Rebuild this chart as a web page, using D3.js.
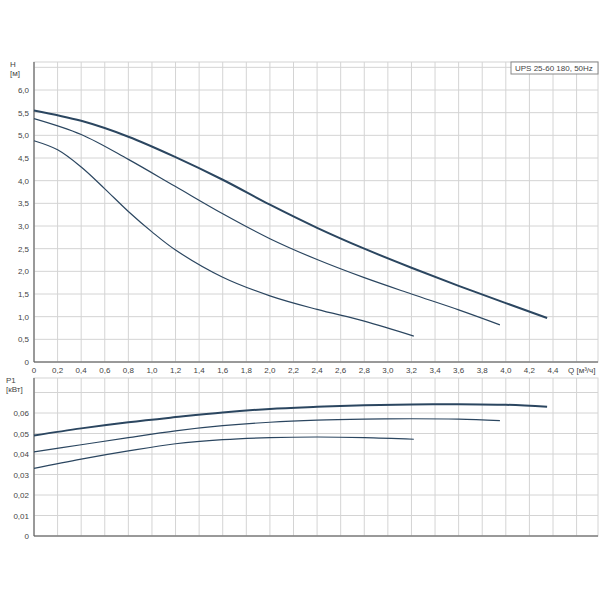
<!DOCTYPE html><html><head><script src="https://cdn.jsdelivr.net/npm/d3@7"></script>
<style>body{margin:0;background:#fff}text{font-family:Arial,"Liberation Sans",sans-serif;font-size:8px;fill:#444}</style></head><body>
<svg id="c" width="600" height="600"></svg>
<script>
const title="UPS 25-60 180, 50Hz";
const qTicks=[0,0.2,0.4,0.6,0.8,1.0,1.2,1.4,1.6,1.8,2.0,2.2,2.4,2.6,2.8,3.0,3.2,3.4,3.6,3.8,4.0,4.2,4.4];
const hTicks=[0,0.5,1.0,1.5,2.0,2.5,3.0,3.5,4.0,4.5,5.0,5.5,6.0];
const pTicks=[0,0.01,0.02,0.03,0.04,0.05,0.06];
const hHigh=[[0,5.55],[0.4,5.32],[0.8,4.97],[1.2,4.52],[1.6,4.02],[2.0,3.47],[2.4,2.96],[2.8,2.5],[3.2,2.08],[3.6,1.68],[4.0,1.3],[4.35,0.97]];
const hMid=[[0,5.37],[0.4,5.02],[0.8,4.47],[1.2,3.87],[1.6,3.27],[2.0,2.72],[2.4,2.26],[2.8,1.86],[3.2,1.5],[3.6,1.15],[3.95,0.82]];
const hLow=[[0,4.88],[0.2,4.68],[0.4,4.3],[0.6,3.82],[0.8,3.32],[1.0,2.87],[1.2,2.47],[1.6,1.87],[2.0,1.46],[2.4,1.16],[2.8,0.9],[3.22,0.57]];
const pHigh=[[0,0.049],[0.4,0.0525],[0.8,0.0555],[1.2,0.058],[1.6,0.0603],[2.0,0.062],[2.4,0.063],[2.8,0.0638],[3.2,0.0642],[3.6,0.0643],[4.0,0.064],[4.35,0.063]];
const pMid=[[0,0.041],[0.4,0.0445],[0.8,0.048],[1.2,0.0513],[1.6,0.0538],[2.0,0.0555],[2.4,0.0565],[2.8,0.057],[3.2,0.0572],[3.6,0.057],[3.95,0.0563]];
const pLow=[[0,0.033],[0.4,0.0375],[0.8,0.0415],[1.2,0.045],[1.6,0.047],[2.0,0.048],[2.4,0.0483],[2.8,0.048],[3.22,0.0472]];
const svg=d3.select("#c");
const x=d3.scaleLinear().domain([0,4.4]).range([34,553]);
const xMax=x.invert(598);
const yH=d3.scaleLinear().domain([0,6]).range([362,90]);
const yP=d3.scaleLinear().domain([0,0.06]).range([536,413]);
const grid="#d4d4d4";
function panel(y,ticks,top,bottom,fmt){
  const g=svg.append("g");
  const gx=d3.range(0,xMax,0.2);
  g.selectAll(".vx").data(gx).enter().append("line").attr("x1",d=>x(d)).attr("x2",d=>x(d)).attr("y1",top).attr("y2",bottom).attr("stroke",grid);
  const step=ticks[1]-ticks[0];const gy=[];for(let v=0;y(v)>=top-0.5;v+=step)gy.push(v);
  g.selectAll(".hy").data(gy).enter().append("line").attr("x1",34).attr("x2",598).attr("y1",d=>y(d)).attr("y2",d=>y(d)).attr("stroke",grid);
  g.append("rect").attr("x",34).attr("y",top).attr("width",564).attr("height",bottom-top).attr("fill","none").attr("stroke",grid);
  g.append("line").attr("x1",34).attr("x2",34).attr("y1",top).attr("y2",bottom).attr("stroke","#555");
  g.append("line").attr("x1",34).attr("x2",598).attr("y1",bottom).attr("y2",bottom).attr("stroke","#555");
  g.selectAll(".tl").data(ticks).enter().append("text").attr("x",29).attr("y",d=>y(d)+3).attr("text-anchor","end").text(fmt);
}
panel(yH,hTicks,62,362,d=>d===0?"0":d3.format(".1f")(d).replace(".",","));
panel(yP,pTicks,378,536,d=>d===0?"0":d3.format(".2f")(d).replace(".",","));
svg.selectAll(".qx").data(qTicks).enter().append("text").attr("x",d=>x(d)).attr("y",373).attr("text-anchor","middle").text(d=>d===0?"0":d3.format(".1f")(d).replace(".",","));
svg.append("text").attr("x",568).attr("y",373).text("Q [м³/ч]");
svg.append("text").attr("x",10).attr("y",67).text("H");
svg.append("text").attr("x",10).attr("y",76).text("[м]");
svg.append("text").attr("x",6).attr("y",383).text("P1");
svg.append("text").attr("x",6).attr("y",392).text("[кВт]");
svg.append("rect").attr("x",511).attr("y",62).attr("width",87).attr("height",12).attr("fill","#fff").attr("stroke","#888");
svg.append("text").attr("x",515).attr("y",71).text(title);
const lH=d3.line().x(d=>x(d[0])).y(d=>yH(d[1])).curve(d3.curveCatmullRom);
const lP=d3.line().x(d=>x(d[0])).y(d=>yP(d[1])).curve(d3.curveCatmullRom);
[[hHigh,lH,2],[hMid,lH,1.2],[hLow,lH,1.2],[pHigh,lP,2],[pMid,lP,1.2],[pLow,lP,1.2]].forEach(([d,l,w])=>
 svg.append("path").attr("d",l(d)).attr("fill","none").attr("stroke","#2b4660").attr("stroke-width",w));
</script></body></html>
